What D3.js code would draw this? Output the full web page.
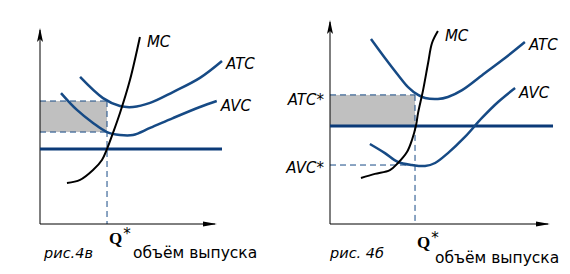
<!DOCTYPE html>
<html>
<head>
<meta charset="utf-8">
<script src="https://cdn.jsdelivr.net/npm/d3@7"></script>
<style>
  body { margin: 0; background: #fff; }
  svg { display: block; }
  .lbl { font-family: "DejaVu Sans", sans-serif; font-style: italic; font-size: 15px; }
  .cap { font-family: "DejaVu Sans", sans-serif; font-size: 15.5px; }
  .fig { font-family: "DejaVu Sans", sans-serif; font-style: italic; font-size: 14.5px; }
  .q { font-family: "Liberation Serif", serif; font-weight: bold; font-size: 17px; }
  .star { font-family: "DejaVu Sans", sans-serif; font-size: 15px; }
</style>
</head>
<body>
<svg id="chart" width="570" height="274"></svg>
<script>
// Panel 4в (left): quantity / cost in arbitrary units 0..100
const mcLeft  = [[15.4,21.1],[22.9,22.7],[30.3,27.8],[35.4,33.0],[38.3,38.7],[41.7,46.9],[45.7,57.2],[51.4,74.2],[57.1,96.4]];
const atcLeft = [[22.9,75.8],[36,64.9],[45.7,60.8],[53.1,60.3],[62.9,62.4],[76,68],[91.4,75.3],[104,84]];
const avcLeft = [[12,67.5],[21.1,58.8],[30.3,52.1],[38.3,47.4],[45.7,45.9],[53.1,45.9],[62.9,49.5],[76,54.6],[91.4,60.3],[101,63.4]];
const levelsLeft = { q: 38.3, price: 38.7, atc: 63.4, avc: 47.4, priceEnd: 104 };

// Panel 4б (right)
const mcRight  = [[14.2,22.8],[20.6,24.8],[27.5,26.7],[31.2,30.2],[35.3,35.6],[37.6,41.6],[39.4,48.5],[40.4,55],[42.7,66.3],[45,79.7],[46.8,89.6],[49.5,95.5]];
const atcRight = [[18.8,91.6],[25.2,82.2],[31.2,73.8],[35.8,67.8],[40.4,63.9],[43.6,62.4],[49.5,61.9],[54.1,62.9],[60.6,66.3],[71.1,74.8],[80.3,82.2],[89.4,90.1]];
const avcRight = [[18.3,39.6],[25.2,35.1],[31.2,30.7],[37.6,29.2],[43.6,28.7],[48.2,30.2],[54.1,35.1],[61.9,43.1],[69.7,52.5],[77.1,60.4],[84.9,67.3]];
const levelsRight = { q: 39, price: 48.5, atc: 63.9, avc: 29.2, priceEnd: 102.3 };

const blue = "#164a85", dark = "#0b3a78", grey = "#c0c0c0";
const svg = d3.select("#chart");

function panel(opt) {
  const x = d3.scaleLinear().domain([0, 100]).range(opt.xr);
  const y = d3.scaleLinear().domain([0, 100]).range(opt.yr);
  const g = svg.append("g");
  const L = opt.levels;
  const line = d3.line().x(d => x(d[0])).y(d => y(d[1])).curve(d3.curveCatmullRom);

  // shaded area between ATC* and the lower level
  g.append("rect")
    .attr("x", x(0)).attr("y", y(L.atc))
    .attr("width", x(L.q) - x(0)).attr("height", y(opt.shadeBottom) - y(L.atc))
    .attr("fill", grey);

  // dashed guides
  const dash = g.append("g").attr("stroke", blue).attr("stroke-width", 1).attr("stroke-dasharray", "6,4").attr("fill", "none");
  dash.append("line").attr("x1", x(L.q)).attr("x2", x(L.q)).attr("y1", y(L.atc)).attr("y2", y(0));
  dash.append("line").attr("x1", x(0)).attr("x2", x(L.q)).attr("y1", y(L.atc)).attr("y2", y(L.atc));
  dash.append("line").attr("x1", x(0)).attr("x2", x(L.q)).attr("y1", y(L.avc)).attr("y2", y(L.avc));

  // axes
  g.append("line").attr("x1", x(0)).attr("x2", x(0)).attr("y1", y(0)).attr("y2", opt.yTop).attr("stroke", "#000").attr("stroke-width", 1);
  g.append("line").attr("x1", x(0)).attr("x2", opt.xEnd).attr("y1", y(0)).attr("y2", y(0)).attr("stroke", "#000").attr("stroke-width", 1);
  g.append("path")
    .attr("d", `M${x(0)},${opt.yTop - 2} L${x(0) - 3},${opt.yTop + 12} L${x(0)},${opt.yTop + 9} L${x(0) + 3},${opt.yTop + 12} Z`)
    .attr("fill", "#000");
  g.append("path")
    .attr("d", `M${opt.xEnd + 2},${y(0)} L${opt.xEnd - 12},${y(0) - 2.5} L${opt.xEnd - 12},${y(0) + 2.5} Z`)
    .attr("fill", "#000");

  // price line
  g.append("line").attr("x1", x(0)).attr("x2", x(L.priceEnd)).attr("y1", y(L.price)).attr("y2", y(L.price))
    .attr("stroke", dark).attr("stroke-width", 3);

  // cost curves
  g.append("path").datum(opt.atc).attr("d", line).attr("fill", "none").attr("stroke", blue).attr("stroke-width", 2.5);
  g.append("path").datum(opt.avc).attr("d", line).attr("fill", "none").attr("stroke", blue).attr("stroke-width", 2.5);
  g.append("path").datum(opt.mc).attr("d", line).attr("fill", "none").attr("stroke", "#000").attr("stroke-width", 2);

  // labels
  const last = a => a[a.length - 1];
  g.append("text").attr("class", "lbl").attr("x", x(last(opt.mc)[0]) + 7).attr("y", y(last(opt.mc)[1]) + 10).text("MC");
  g.append("text").attr("class", "lbl").attr("x", x(last(opt.atc)[0]) + 4).attr("y", y(last(opt.atc)[1]) + 8).text("ATC");
  g.append("text").attr("class", "lbl").attr("x", x(last(opt.avc)[0]) + 4).attr("y", y(last(opt.avc)[1]) + 10).text("AVC");

  const qt = g.append("text").attr("x", x(L.q) + 2).attr("y", y(0) + opt.qDy);
  qt.append("tspan").attr("class", "q").text("Q");
  qt.append("tspan").attr("class", "star").attr("dx", 1).attr("dy", -5).text("*");

  g.append("text").attr("class", "fig").attr("x", x(0) + opt.figDx).attr("y", opt.figY).text(opt.fig);
  g.append("text").attr("class", "cap").attr("x", x(L.q) + opt.capDx).attr("y", opt.capY).text("объём выпуска");

  if (opt.starLabels) {
    g.append("text").attr("class", "lbl").attr("x", x(0) - 6).attr("y", y(L.atc) + 10).attr("text-anchor", "end").text("ATC*");
    g.append("text").attr("class", "lbl").attr("x", x(0) - 6).attr("y", y(L.avc) + 8).attr("text-anchor", "end").text("AVC*");
  }
}

panel({ xr: [40, 215], yr: [224, 30], yTop: 30, xEnd: 215, levels: levelsLeft,
  mc: mcLeft, atc: atcLeft, avc: avcLeft, shadeBottom: levelsLeft.avc,
  qDy: 20, fig: "рис.4в", figDx: 4, figY: 258, capDx: 26, capY: 258, starLabels: false });

panel({ xr: [330, 548], yr: [224, 22], yTop: 22, xEnd: 548, levels: levelsRight,
  mc: mcRight, atc: atcRight, avc: avcRight, shadeBottom: levelsRight.price,
  qDy: 24, fig: "рис. 4б", figDx: 0, figY: 258, capDx: 20, capY: 263, starLabels: true });
</script>
</body>
</html>
